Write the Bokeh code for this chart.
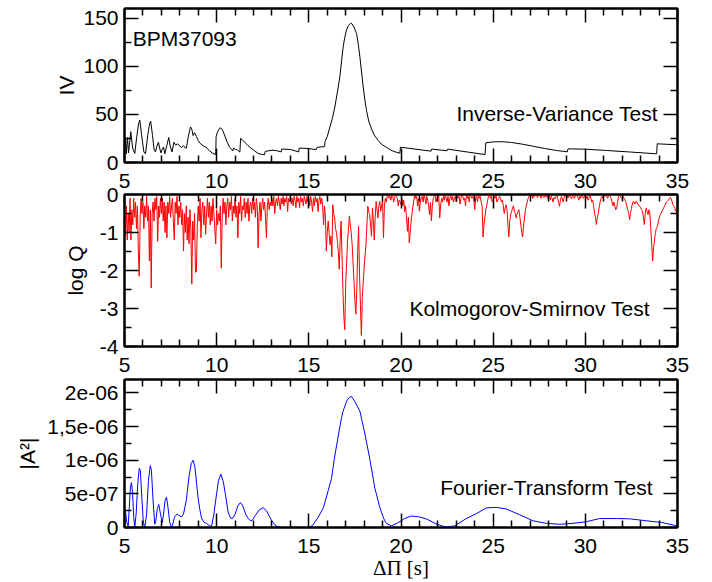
from bokeh.plotting import figure
from bokeh.models import Range1d, FixedTicker, LinearAxis, Label, CustomJSTickFormatter
from bokeh.layouts import column
from bokeh.embed import file_html
from bokeh.resources import INLINE

FONT = "Liberation Sans"
FS = "21px"

# ---------------- ticks ----------------
x_major = [5, 10, 15, 20, 25, 30, 35]
x_minor = [6, 7, 8, 9, 11, 12, 13, 14, 16, 17, 18, 19, 21, 22, 23, 24,
           26, 27, 28, 29, 31, 32, 33, 34]
iv_y_major = [0, 50, 100, 150]
iv_y_minor = [25, 75, 125]
ks_y_major = [0, -1, -2, -3, -4]
ks_y_minor = [-0.5, -1.5, -2.5, -3.5]
ks_tick_labels = ["0", "-1", "-2", "-3", "-4"]
ft_y_major = [0, 5e-7, 1e-6, 1.5e-6, 2e-6]
ft_y_minor = [2.5e-7, 7.5e-7, 1.25e-6, 1.75e-6]
ft_tick_labels = ["0", "5e-07", "1e-06", "1,5e-06", "2e-06"]

# ---------------- Inverse-Variance test ----------------
iv_dp = [5.0, 5.05, 5.1, 5.16, 5.22, 5.34, 5.44, 5.56, 5.66, 5.76, 5.83, 5.93, 6.05, 6.14,
         6.26, 6.36, 6.42, 6.52, 6.6, 6.68, 6.76, 6.84, 6.92, 6.98, 7.05, 7.12, 7.19, 7.3,
         7.4, 7.48, 7.58, 7.68, 7.78, 7.88, 7.99, 8.1, 8.2, 8.3, 8.36, 8.45, 8.58, 8.66,
         8.72, 8.8, 8.9, 9.0, 9.1, 9.25, 9.4, 9.6, 9.75, 9.9, 9.95, 9.97, 10.05, 10.15,
         10.22, 10.32, 10.43, 10.55, 10.7, 10.8, 10.87, 10.92, 11.02, 11.1, 11.2, 11.26,
         11.3, 11.4, 11.55, 11.7, 11.86, 12.0, 12.13, 12.3, 12.45, 12.6, 12.63, 13.0,
         13.25, 13.5, 13.53, 14.0, 14.45, 14.48, 15.0, 15.4, 15.45, 15.85, 15.88, 16.0,
         16.14, 16.28, 16.41, 16.55, 16.68, 16.78, 16.86, 16.95, 17.04, 17.15, 17.26,
         17.35, 17.45, 17.59, 17.68, 17.77, 17.86, 17.95, 18.04, 18.13, 18.25, 18.4,
         18.55, 18.76, 18.95, 19.2, 19.4, 19.57, 19.75, 19.94, 19.97, 21.63, 21.66, 22.5,
         22.53, 24.56, 24.6, 25.0, 25.5, 26.0, 26.6, 27.2, 27.8, 28.44, 29.02, 29.06,
         30.0, 31.15, 32.5, 33.87, 33.9, 35.0]
iv_val = [12, 25, 9, 26, 10, 32, 15, 9.5, 26, 40, 44, 28, 11, 9,
          28, 40, 43, 28, 14, 11, 17, 21, 14, 10, 14, 16, 9, 18,
          26, 17, 11, 21, 18, 19.5, 17, 15.5, 17.5, 15, 15, 26, 37, 34,
          28, 31, 27, 23, 20, 17.5, 16, 12.5, 10, 8.5, 8.3, 27, 32, 35.5,
          36, 33.5, 28.5, 22, 16, 14, 12, 15, 13.5, 13.5, 11.5, 11,
          25, 23.5, 20.5, 17.5, 15, 13, 11, 9, 8.5, 8, 11.5, 12.8,
          12.3, 11, 14, 13.5, 11, 15, 14.5, 13.3, 15.8, 16.5, 22, 27,
          36.8, 46, 57.6, 73, 88.9, 106, 120, 130, 137.5, 142.5, 144.5,
          144, 140.5, 134, 123, 109.7, 94, 78.4, 65, 54, 43, 35,
          28.5, 22.9, 18.8, 15.9, 13.5, 11.8, 10.6, 9.7, 15.9, 11.8, 13.9, 12.2,
          13.9, 8.2, 20.5, 21.4, 21.6, 20.8, 19, 16.8, 14.5, 12.5, 11.1, 14.2,
          13.8, 12.5, 10.8, 9.0, 19.4, 18.4]

# ---------------- Kolmogorov-Smirnov test (log Q, sampled every 0.05 s from 5 s) ----------------
ks_dp_start = 5.0
ks_dp_step = 0.05
ks_logq = [
    -0.2, -1.1, -0.3, -1.2, -0.5, -1.0, -0.1, -1.2, -0.4, -0.8, -0.1, -0.6, -0.2, -0.9, -0.3, -1.5, -2.15, -0.6, -0.1, -0.5,
    -0.2, -0.9, -0.3, -0.6, -0.05, -0.7, -0.3, -1.75, -0.4, -2.46, -0.5, -0.2, -0.7, -0.1, -0.4, -0.05, -1.23, -0.3, -0.6, -0.1,
    -0.5, -0.1, -0.7, -0.2, -1.0, -0.3, -1.14, -0.2, -0.5, -0.05, -0.6, -0.3, -0.1, -0.7, -1.19, -0.2, -0.5, -0.05, -0.8, -0.3,
    -0.6, -0.2, -0.8, -0.4, -1.49, -0.5, -1.0, -0.3, -1.2, -0.6, -1.3, -0.4, -0.9, -2.36, -0.7, -1.2, -0.5, -2.05, -2.03, -0.8,
    -0.3, -0.7, -0.1, -1.14, -0.4, -0.2, -0.8, -0.3, -1.05, -0.5, -0.1, -0.6, -0.2, -0.8, -0.3, -0.7, -0.1, -0.5, -0.9, -1.3,
    -0.4, -0.8, -0.5, -0.7, -0.3, -1.94, -0.6, -0.1, -0.5, -0.2, -0.8, -0.3, -0.1, -0.6, -0.2, -0.4, -0.05, -0.7, -0.3, -0.5,
    -0.1, -0.6, -0.3, -1.14, -0.2, -0.5, -0.05, -0.7, -0.3, -0.4, -0.1, -0.6, -0.2, -0.5, -0.1, -0.7, -0.3, -0.2, -0.5, -0.1,
    -0.4, -0.2, -0.6, -0.1, -0.3, -1.4, -0.5, -0.2, -0.7, -0.3, -0.1, -0.4, -0.2, -0.6, -1.14, -0.3, -0.1, -0.4, -0.2, -0.3,
    -0.1, -0.3, -0.05, -0.5, -0.2, -0.1, -0.3, -0.05, -0.2, -0.4, -0.1, -0.25, -0.05, -0.3, -0.1, -0.2, -0.05, -0.45, -0.1, -0.2,
    -0.05, -0.25, -0.1, -0.3, -0.05, -0.15, -0.35, -0.05, -0.2, -0.1, -0.35, -0.05, -0.2, -0.1, -0.3, -0.05, -0.15, -0.25, -0.05, -0.2,
    -0.1, -0.3, -0.05, -0.2, -0.45, -0.1, -0.3, -0.05, -0.2, -0.1, -0.45, -0.15, -0.05, -0.25, -0.1, -0.3, -0.8, -0.3, -0.6, -1.49,
    -1.0, -0.7, -1.0, -1.32, -1.1, -1.64, -0.27, -0.5, -0.62, -0.9, -1.0, -1.23, -1.5, -1.97, -1.2, -0.7, -1.6, -2.53, -3.2, -3.56,
    -2.36, -1.8, -1.23, -0.9, -0.57, -0.8, -1.0, -1.32, -1.8, -2.27, -2.8, -3.15, -2.53, -1.5, -0.84, -2.1, -2.9, -3.71, -2.71, -2.3,
    -1.93, -1.6, -1.32, -0.8, -0.31, -0.45, -0.53, -0.8, -1.1, -0.36, -0.7, -1.2, -0.6, -0.18, -0.4, -0.62, -0.3, -0.18, -0.44, -0.3,
    -0.14, -1.14, -0.3, -0.1, -0.2, -0.05, 0, -0.1, -0.05, -0.15, 0, -0.05, -0.2, -0.1, 0, -0.05, -0.1, -0.3, -0.15, -0.2,
    -0.27, -0.1, -0.3, -0.15, -0.45, -0.3, -0.6, -0.97, -0.6, -1.27, -1.0, -0.7, -0.5, -0.3, -0.15, 0, -0.1, -0.05, -0.3, -0.1,
    -0.44, -0.2, -0.1, -0.05, -0.2, 0, -0.1, -0.25, -0.05, -0.15, -0.3, -0.53, -0.2, -0.69, -0.3, -0.1, -0.05, 0, -0.2, -0.1,
    -0.1, -0.05, -0.62, -0.3, -0.1, -0.2, -0.05, -0.15, 0, -0.1, -0.2, -0.05, -0.3, -0.1, 0, -0.15, -0.05, -0.2, -0.1, -0.05,
    -0.2, 0, -0.1, -0.05, -0.25, -0.1, 0, -0.05, -0.15, -0.1, -0.3, 0, -0.1, -0.05, -0.2, 0, -0.05, -0.1, -0.05, -0.1,
    -0.4, -0.1, -0.05, -0.2, 0, -0.1, -0.05, -0.2, -0.3, -1.12, -0.8, -0.6, -0.4, -0.3, -0.15, -0.05, 0, -0.1, -0.05, -0.2,
    -0.15, -0.05, -0.1, 0, -0.2, -0.15, -0.1, -0.05, -0.1, -0.2, -0.15, -0.3, -0.5, -0.35, -0.27, -0.4, -0.8, -1.12, -0.7, -0.53,
    -0.45, -0.36, -0.3, -0.45, -0.5, -0.62, -0.5, -0.44, -0.4, -0.6, -0.8, -1.0, -1.12, -0.8, -0.62, -0.4, -0.3, -0.18, -0.1, -0.05,
    0, -0.05, 0, -0.1, 0, -0.05, -0.02, 0, -0.08, -0.03, 0, -0.05, -0.1, 0, -0.04, -0.08, -0.02, -0.06, 0, -0.1,
    -0.05, 0, -0.15, -0.05, -0.1, -0.2, -0.08, -0.12, -0.05, 0, -0.1, -0.2, -0.31, -0.15, -0.05, -0.1, -0.2, -0.08, 0, -0.05,
    -0.1, -0.03, -0.08, 0, -0.05, -0.12, -0.05, 0, -0.1, -0.05, -0.02, 0, -0.08, -0.15, -0.05, -0.1, 0, -0.05, -0.1, -0.05,
    0, -0.1, -0.05, -0.15, -0.08, 0, -0.1, -0.2, -0.15, -0.3, -0.5, -0.6, -0.79, -0.6, -0.5, -0.35, -0.2, -0.1, -0.05, -0.1,
    -0.05, 0, -0.05, 0, -0.1, -0.05, 0, -0.05, -0.1, -0.2, -0.3, -0.2, -0.3, -0.4, -0.35, -0.2, -0.05, 0, -0.05, -0.1,
    -0.1, -0.05, -0.1, -0.15, -0.2, -0.3, -0.4, -0.5, -0.66, -0.5, -0.36, -0.25, -0.18, -0.2, -0.25, -0.18, -0.2, -0.25, -0.3, -0.31,
    -0.35, -0.4, -0.44, -0.6, -0.79, -0.5, -0.36, -0.45, -0.53, -0.4, -0.5, -0.9, -1.3, -1.75, -1.4, -1.23, -1.0, -0.9, -0.85, -0.75,
    -0.62, -0.55, -0.5, -0.45, -0.4, -0.35, -0.3, -0.25, -0.2, -0.18, -0.15, -0.12, -0.08, -0.1, -0.18, -0.27, -0.3, -0.35, -0.44, -0.45,
    -0.45,
]
ks_dp = [ks_dp_start + i * ks_dp_step for i in range(len(ks_logq))]

# ---------------- Fourier-Transform test (|A^2| in units of 1e-6) ----------------
ft_dp = [5.0, 5.02, 5.06, 5.12, 5.2, 5.26, 5.32, 5.38, 5.44, 5.5, 5.56, 5.63, 5.72, 5.8,
         5.86, 5.94, 6.02, 6.1, 6.2, 6.3, 6.4, 6.46, 6.55, 6.64, 6.7, 6.78, 6.86, 6.94,
         7.04, 7.12, 7.2, 7.28, 7.36, 7.45, 7.55, 7.62, 7.72, 7.85, 7.95, 8.09, 8.2, 8.35,
         8.5, 8.62, 8.72, 8.82, 8.92, 9.0, 9.08, 9.18, 9.3, 9.45, 9.6, 9.72, 9.85, 9.99,
         10.1, 10.23, 10.36, 10.5, 10.62, 10.75, 10.86, 11.0, 11.15, 11.29, 11.42, 11.57,
         11.71, 11.85, 11.94, 12.1, 12.3, 12.52, 12.7, 12.85, 12.97, 13.15, 13.33, 13.6,
         14.0, 14.5, 14.87, 15.05, 15.2, 15.5, 15.8, 16.05, 16.23, 16.4, 16.59, 16.75,
         16.86, 17.05, 17.22, 17.32, 17.5, 17.77, 18.04, 18.31, 18.58, 18.85, 19.05, 19.2,
         19.48, 19.84, 20.2, 20.56, 21.01, 21.41, 21.91, 22.45, 22.91, 23.54, 24.08, 24.62,
         25.17, 25.71, 26.43, 27.16, 27.88, 28.6, 29.33, 30.05, 30.77, 31.68, 32.4, 33.3,
         34.12, 34.9, 35.0]
ft_amp_micro = [0.2, 0.27, 0.22, 0.08, 0.02, 0.3, 0.6, 0.667, 0.5, 0.15, 0.01, 0.2, 0.65, 0.88,
                0.85, 0.45, 0.08, 0.0, 0.2, 0.7, 0.92, 0.85, 0.4, 0.05, 0.1, 0.28, 0.34, 0.22,
                0.07, 0.2, 0.4, 0.45, 0.3, 0.08, 0.0, 0.05, 0.16, 0.2, 0.18, 0.157, 0.2, 0.4,
                0.76, 0.95, 1.0, 0.9, 0.63, 0.42, 0.276, 0.14, 0.08, 0.06, 0.03, 0.014, 0.2, 0.49,
                0.7, 0.79, 0.68, 0.45, 0.23, 0.14, 0.133, 0.2, 0.32, 0.371, 0.32, 0.2,
                0.133, 0.1, 0.11, 0.18, 0.26, 0.295, 0.25, 0.17, 0.11, 0.04, 0.01, 0.0,
                0.0, 0.0, 0.0, 0.01, 0.03, 0.15, 0.3, 0.55, 0.73, 1.05, 1.35, 1.6,
                1.73, 1.88, 1.94, 1.945, 1.87, 1.73, 1.395, 1.014, 0.586, 0.3, 0.14, 0.062,
                0.024, 0.071, 0.133, 0.171, 0.157, 0.124, 0.052, 0.005, 0.024, 0.133, 0.205, 0.29,
                0.3, 0.276, 0.19, 0.1, 0.062, 0.048, 0.062, 0.086, 0.133, 0.133, 0.129, 0.1,
                0.076, 0.029, 0.025]
ft_amp = [v * 1e-6 for v in ft_amp_micro]

W = 712
FRAME_L = 124
FRAME_R = 35


def make_fig(height, top, bottom, y0, y1):
    p = figure(width=W, height=height, x_range=Range1d(5, 35), y_range=Range1d(y0, y1),
               x_axis_type=None, y_axis_type=None, output_backend="svg",
               toolbar_location=None, min_border_left=FRAME_L, min_border_right=FRAME_R,
               min_border_top=top, min_border_bottom=bottom)
    p.outline_line_color = "black"
    p.outline_line_width = 2
    p.background_fill_color = "white"
    p.border_fill_color = "white"
    return p


def label_formatter(vals, labs):
    return CustomJSTickFormatter(args=dict(vals=vals, labs=labs), code="""
for (let i = 0; i < vals.length; i++) {
    if (Math.abs(tick - vals[i]) <= 1e-9 * Math.max(1e-6, Math.abs(vals[i])) + 1e-15) { return labs[i]; }
}
return "";
""")


def add_axis(p, side, ticks, minor, labels, formatter=None, label_text=None,
             label_font=FONT, label_standoff=6, axis_label_standoff=6):
    ax = LinearAxis(ticker=FixedTicker(ticks=ticks, minor_ticks=minor))
    ax.axis_line_width = 2
    ax.axis_line_color = "black"
    ax.major_tick_in = 14
    ax.major_tick_out = 0
    ax.minor_tick_in = 7
    ax.minor_tick_out = 0
    ax.major_tick_line_width = 1.5
    ax.minor_tick_line_width = 1.5
    ax.major_tick_line_color = "black"
    ax.minor_tick_line_color = "black"
    if labels:
        if formatter is not None:
            ax.formatter = formatter
        ax.major_label_text_font = FONT
        ax.major_label_text_font_size = FS
        ax.major_label_text_color = "black"
        ax.major_label_standoff = label_standoff
    else:
        ax.formatter = CustomJSTickFormatter(code="return '';")
        ax.major_label_text_font_size = "0px"
        ax.major_label_text_alpha = 0
        ax.major_label_standoff = 0
    if label_text is not None:
        ax.axis_label = label_text
        ax.axis_label_text_font = label_font
        ax.axis_label_text_font_size = FS
        ax.axis_label_text_font_style = "normal"
        ax.axis_label_text_color = "black"
        ax.axis_label_standoff = axis_label_standoff
    p.add_layout(ax, side)
    return ax


# ---- panel 1 ----
p1 = make_fig(170, 8, 8, 0, 160)
add_axis(p1, "left", iv_y_major, iv_y_minor, True, label_text="IV", axis_label_standoff=2)
add_axis(p1, "right", iv_y_major, iv_y_minor, False)
add_axis(p1, "above", x_major, x_minor, False)
add_axis(p1, "below", x_major, x_minor, False)
p1.line(iv_dp, iv_val, line_color="black", line_width=1)
p1.add_layout(Label(x=5.45, y=129, text="BPM37093", text_font=FONT, text_font_size=FS,
                    text_align="left", text_baseline="middle", text_color="black"))
p1.add_layout(Label(x=33.94, y=51.3, text="Inverse-Variance Test", text_font=FONT,
                    text_font_size=FS, text_align="right", text_baseline="middle",
                    text_color="black"))

# ---- panel 2 ----
p2 = make_fig(184, 23, 8, -4, 0)
add_axis(p2, "left", ks_y_major, ks_y_minor, True, formatter=label_formatter(ks_y_major, ks_tick_labels),
         label_text="log Q", axis_label_standoff=10)
add_axis(p2, "right", ks_y_major, ks_y_minor, False)
add_axis(p2, "above", x_major, x_minor, True, label_standoff=7)
add_axis(p2, "below", x_major, x_minor, False)
p2.line(ks_dp, ks_logq, line_color="#ff0000", line_width=1)
p2.add_layout(Label(x=33.5, y=-2.99, text="Kolmogorov-Smirnov Test", text_font=FONT,
                    text_font_size=FS, text_align="right", text_baseline="middle",
                    text_color="black"))

# ---- panel 3 ----
p3 = make_fig(228, 23, 51, 0, 2.2e-6)
add_axis(p3, "left", ft_y_major, ft_y_minor, True, formatter=label_formatter(ft_y_major, ft_tick_labels),
         label_text="|A²|", axis_label_standoff=5)
add_axis(p3, "right", ft_y_major, ft_y_minor, False)
add_axis(p3, "above", x_major, x_minor, True, label_standoff=8)
add_axis(p3, "below", x_major, x_minor, True, label_text="ΔΠ [s]",
         label_font="Liberation Serif", label_standoff=11, axis_label_standoff=0)
p3.line(ft_dp, ft_amp, line_color="#0000ff", line_width=1)
p3.add_layout(Label(x=33.67, y=0.593e-6, text="Fourier-Transform Test", text_font=FONT,
                    text_font_size=FS, text_align="right", text_baseline="middle",
                    text_color="black"))

layout = column(p1, p2, p3, spacing=0)
open("out.html", "w").write(file_html(layout, INLINE))
